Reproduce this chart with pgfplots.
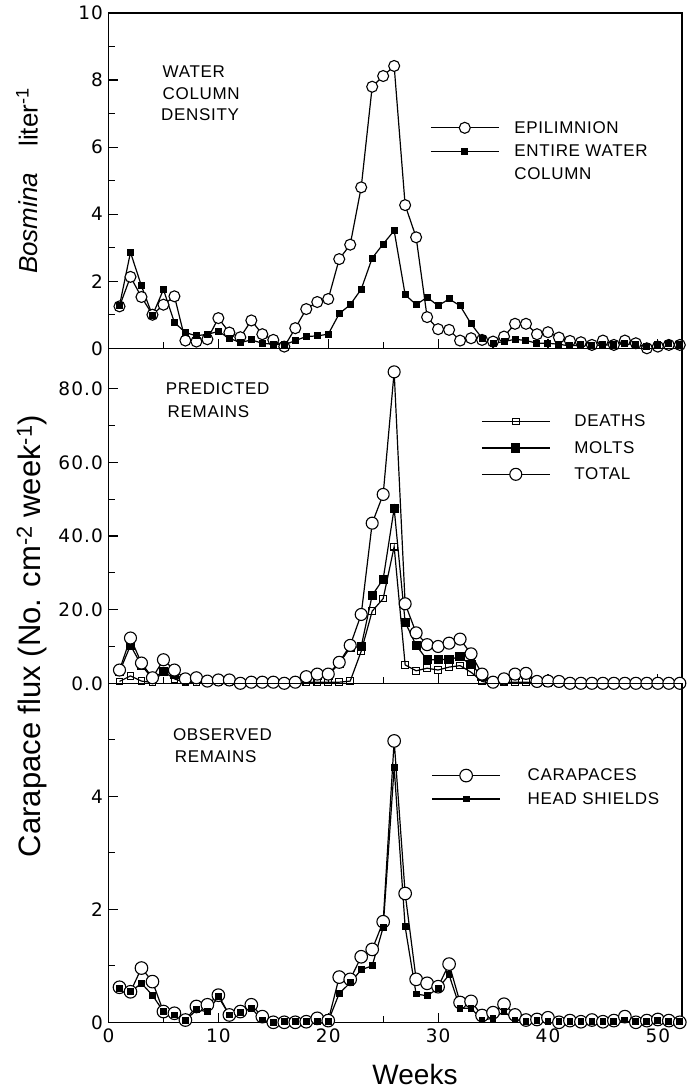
\documentclass[border=0pt]{standalone}
\usepackage{pgfplots}
\pgfplotsset{compat=1.18}
\usepackage{pgfplotstable}
\usepackage{fontspec}
\setmainfont{Liberation Sans}
\newfontfamily\panelfont[LetterSpace=4]{Liberation Sans}
\newfontfamily\tickfont[LetterSpace=6]{DejaVu Sans}

\pgfplotstableread{
w epi entire
1 1.25 1.27
2 2.13 2.86
3 1.53 1.86
4 1.00 0.98
5 1.30 1.75
6 1.55 0.77
7 0.23 0.47
8 0.20 0.37
9 0.27 0.42
10 0.90 0.50
11 0.47 0.30
12 0.33 0.17
13 0.83 0.25
14 0.42 0.15
15 0.25 0.12
16 0.05 0.10
17 0.60 0.23
18 1.17 0.35
19 1.38 0.37
20 1.47 0.42
21 2.66 1.03
22 3.09 1.30
23 4.80 1.76
24 7.80 2.69
25 8.12 3.11
26 8.42 3.51
27 4.27 1.60
28 3.31 1.30
29 0.93 1.52
30 0.57 1.27
31 0.55 1.47
32 0.23 1.27
33 0.30 0.73
34 0.25 0.30
35 0.20 0.15
36 0.35 0.20
37 0.73 0.27
38 0.73 0.23
39 0.42 0.15
40 0.48 0.15
41 0.32 0.12
42 0.22 0.07
43 0.18 0.10
44 0.10 0.07
45 0.23 0.10
46 0.10 0.10
47 0.23 0.15
48 0.15 0.10
49 0.00 0.05
50 0.05 0.10
51 0.10 0.15
52 0.10 0.10
}\densitytable

\pgfplotstableread{
w deaths molts total
1 0.5 3.1 3.6
2 2.0 10.3 12.3
3 0.6 4.9 5.5
4 0.2 1.3 1.5
5 3.2 3.2 6.4
6 1.2 2.4 3.6
7 0.2 1.0 1.2
8 0.3 1.2 1.5
9 0.2 0.4 0.6
10 0.2 0.7 0.9
11 0.2 0.7 0.9
12 0.0 0.0 0.0
13 0.1 0.2 0.3
14 0.1 0.2 0.3
15 0.1 0.2 0.3
16 0.0 0.0 0.0
17 0.1 0.2 0.3
18 0.3 1.5 1.8
19 0.3 2.2 2.5
20 0.3 2.2 2.5
21 0.3 5.4 5.7
22 0.6 9.7 10.3
23 8.7 10.0 18.7
24 19.6 23.9 43.5
25 23.0 28.3 51.3
26 37.1 47.5 84.6
27 5.0 16.6 21.6
28 3.4 10.3 13.7
29 4.1 6.4 10.5
30 3.6 6.4 10.0
31 4.4 6.5 10.9
32 4.8 7.2 12.0
33 3.0 5.0 8.0
34 0.5 2.0 2.5
35 0.0 0.3 0.3
36 0.2 1.0 1.2
37 0.3 2.2 2.5
38 0.3 2.4 2.7
39 0.1 0.4 0.5
40 0.1 0.5 0.6
41 0.1 0.4 0.5
42 0.0 0.0 0.0
43 0.0 0.0 0.0
44 0.0 0.0 0.0
45 0.0 0.0 0.0
46 0.0 0.0 0.0
47 0.0 0.0 0.0
48 0.0 0.0 0.0
49 0.0 0.0 0.0
50 0.0 0.0 0.0
51 0.0 0.0 0.0
52 0.0 0.0 0.0
}\predtable

\pgfplotstableread{
w car head
1 0.62 0.60
2 0.54 0.54
3 0.96 0.69
4 0.72 0.48
5 0.19 0.19
6 0.16 0.13
7 0.04 0.03
8 0.28 0.22
9 0.31 0.19
10 0.48 0.45
11 0.13 0.13
12 0.19 0.17
13 0.31 0.25
14 0.10 0.04
15 0.00 0.00
16 0.00 0.02
17 0.00 0.02
18 0.01 0.02
19 0.07 0.02
20 0.03 0.02
21 0.80 0.51
22 0.76 0.70
23 1.16 0.93
24 1.29 1.00
25 1.78 1.68
26 4.98 4.51
27 2.28 1.69
28 0.76 0.50
29 0.69 0.47
30 0.63 0.60
31 1.03 0.84
32 0.35 0.25
33 0.37 0.25
34 0.12 0.04
35 0.17 0.07
36 0.32 0.19
37 0.13 0.04
38 0.04 0.01
39 0.05 0.03
40 0.08 0.01
41 0.00 0.01
42 0.03 0.01
43 0.01 0.01
44 0.04 0.02
45 0.01 0.01
46 0.03 0.01
47 0.10 0.04
48 0.00 0.01
49 0.03 0.02
50 0.05 0.03
51 0.03 0.02
52 0.00 0.01
}\obstable

\pgfplotsset{
  myaxis/.style={
    scale only axis, width=573.5pt, xmin=0, xmax=52.2,
    clip=false,
    axis line style={line width=1.3pt},
    tick style={black, line width=1.1pt},
    major tick length=9pt, minor tick length=6pt,
    xtick={0,10,...,50}, minor xtick={5,15,...,45},
    xtick pos=bottom, ytick pos=left,
    /pgf/number format/assume math mode=true,
    ticklabel style={font=\tickfont\fontsize{18.5}{18.5}\selectfont},
    yticklabel style={xshift=-2pt},
    xticklabel style={yshift=-3pt},
    legend style={draw=none, fill=none, inner sep=0pt, anchor=north west,
      font=\panelfont\fontsize{17}{17}\selectfont},
    legend cell align=left,
    legend image code/.code={\draw[mark repeat=2,mark phase=2,##1] plot coordinates {(0pt,0pt) (34pt,0pt) (68pt,0pt)};},
    every axis plot/.append style={line width=1.2pt, black},
  },
}

\begin{document}
\begin{tikzpicture}[x=1pt,y=1pt]
\useasboundingbox (0,0) rectangle (700,1091);

% Panel 1
\begin{axis}[myaxis, at={(108.5pt,742.7pt)}, anchor=south west, height=335.3pt,
  ymin=0, ymax=10, ytick={0,2,...,10}, minor ytick={1,3,...,9}, xticklabels={},
  legend style={at={(0.5605,0.684)}, column sep=13pt, row sep=6pt}]
\addplot[mark=*, mark size=5.5pt, mark options={fill=white, draw=black, line width=1.1pt}] table[x=w, y=epi] {\densitytable};
\addlegendentry{EPILIMNION}
\addplot[mark=square*, mark size=2.9pt, mark options={fill=black, draw=black}] table[x=w, y=entire] {\densitytable};
\addlegendentry{ENTIRE WATER}
\addlegendimage{empty legend}
\addlegendentry{COLUMN}
\end{axis}

% Panel 2
\begin{axis}[myaxis, at={(108.5pt,407.7pt)}, anchor=south west, height=335pt,
  ymin=0, ymax=91, ytick={0,20,...,80}, minor ytick={10,30,50,70}, xticklabels={},
  yticklabels={0.0,20.0,40.0,60.0,80.0},
  legend style={at={(0.6495,0.8078)}, column sep=22pt, row sep=9pt}]
\addplot[mark=square, mark size=3.3pt, mark options={fill=white, draw=black, line width=1.1pt}] table[x=w, y=deaths] {\predtable};
\addlegendentry{DEATHS}
\addplot[mark=square*, mark size=4pt, mark options={fill=black, draw=black}] table[x=w, y=molts] {\predtable};
\addlegendentry{MOLTS}
\addplot[mark=*, mark size=6pt, mark options={fill=white, draw=black, line width=1.1pt}] table[x=w, y=total] {\predtable};
\addlegendentry{TOTAL}
\end{axis}

% Panel 3
\begin{axis}[myaxis, at={(108.5pt,68.7pt)}, anchor=south west, height=339pt,
  ymin=0, ymax=6, ytick={0,2,4}, minor ytick={1,3,5},
  legend style={at={(0.5629,0.754)}, column sep=25pt, row sep=6pt}]
\addplot[mark=*, mark size=6.3pt, mark options={fill=white, draw=black, line width=1.1pt}] table[x=w, y=car] {\obstable};
\addlegendentry{CARAPACES}
\addplot[mark=square*, mark size=2.8pt, mark options={fill=black, draw=black}] table[x=w, y=head] {\obstable};
\addlegendentry{HEAD SHIELDS}
\end{axis}

% panel texts
\begin{scope}[every node/.style={anchor=base west, inner sep=0pt, font=\panelfont\fontsize{17}{17}\selectfont}]
\node at (162.5,1013) {WATER};
\node at (162.5,991.5) {COLUMN};
\node at (161,970) {DENSITY};
\node at (165.6,696) {PREDICTED};
\node at (167.5,673) {REMAINS};
\node at (172.8,350) {OBSERVED};
\node at (174.7,328) {REMAINS};
\end{scope}

% axis labels
\node[rotate=90, font=\fontsize{26}{26}\selectfont] at (27,910) {\textit{Bosmina}\quad liter\textsuperscript{-1}};
\node[rotate=90, font=\fontsize{31}{31}\selectfont] at (32,455) {Carapace flux (No. cm\textsuperscript{-2} week\textsuperscript{-1})};
\node[anchor=base, font=\fontsize{28}{28}\selectfont] at (415,6) {Weeks};
\end{tikzpicture}
\end{document}
